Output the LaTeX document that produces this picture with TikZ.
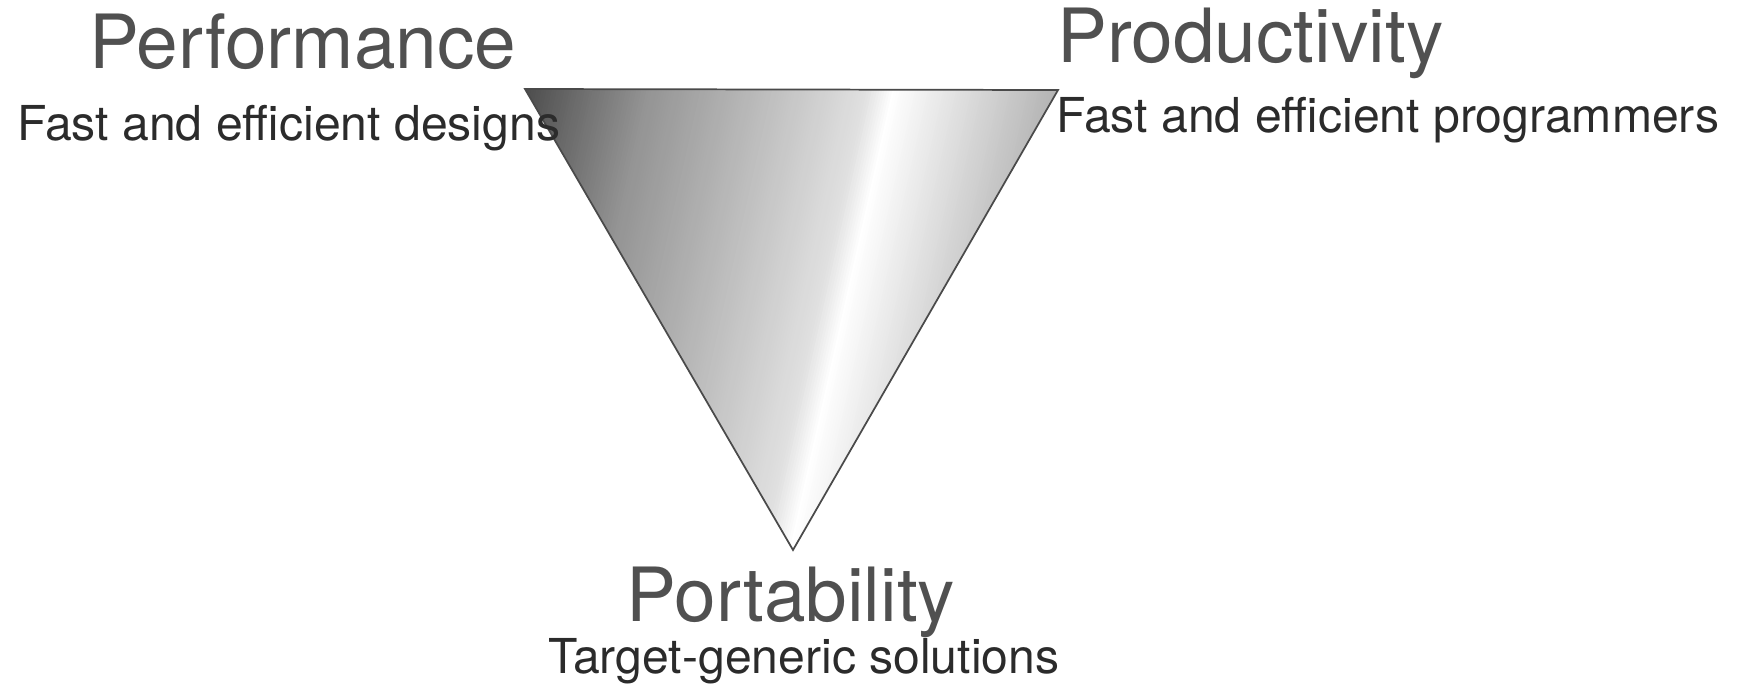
\documentclass[tikz,border=0pt]{standalone}
\usepackage{fontspec}
\setmainfont{TeX Gyre Heros}
\definecolor{titlegray}{HTML}{505050}
\definecolor{subgray}{HTML}{2B2B2B}
\definecolor{edgegray}{HTML}{4A4A4A}
\tikzset{
  titletext/.style={font=\fontsize{56.1}{60}\selectfont, text=titlegray, inner sep=0pt},
  subtext/.style={font=\fontsize{36.1}{40}\selectfont, text=subgray, inner sep=0pt},
  triedge/.style={draw=edgegray, line width=1.3pt, line join=miter}
}
\begin{document}
\begin{tikzpicture}[x=0.75pt,y=-0.75pt]
\useasboundingbox (0,0) rectangle (1737,683);
\coordinate (tl) at (525,89);
\coordinate (tr) at (1058,90);
\coordinate (bt) at (793,550);
\begin{scope}
  \clip (tl) -- (tr) -- (bt) -- cycle;
  \foreach \t in {518,520.5,...,1064}{
    \pgfmathsetmacro{\f}{(\t-531)/521}
    \pgfmathsetmacro{\g}{\f<0.23 ? 0.30+\f*(0.28/0.23) : (\f<0.45 ? 0.58+(\f-0.23)*(0.16/0.22) : (\f<0.64 ? 0.74+(\f-0.45)*(0.14/0.19) : (\f<0.69 ? 0.88+(\f-0.64)*(0.12/0.05) : 1.0-(\f-0.69)*(0.30/0.31))))}
    \definecolor{sc}{gray}{\g}
    \fill[sc] ({\t/0.9759},0) -- ({(\t+3.4)/0.9759},0) -- ({(\t+3.4-0.2181*700)/0.9759},700) -- ({(\t-0.2181*700)/0.9759},700) -- cycle;
  }
\end{scope}
\draw[triedge] (tl) -- (tr) -- (bt) -- cycle;
\node[titletext, anchor=base west] (perf) at (89,68) {Performance};
\node[subtext, anchor=base west] (perfsub) at (17,140) {Fast and efficient designs};
\node[titletext, anchor=base west] (prod) at (1057,62) {Productivity};
\node[subtext, anchor=base west] (prodsub) at (1056,132) {Fast and efficient programmers};
\node[titletext, anchor=base] (port) at (791,621) {Portability};
\node[subtext, anchor=base] (portsub) at (804,673) {Target-generic solutions};
\end{tikzpicture}
\end{document}
